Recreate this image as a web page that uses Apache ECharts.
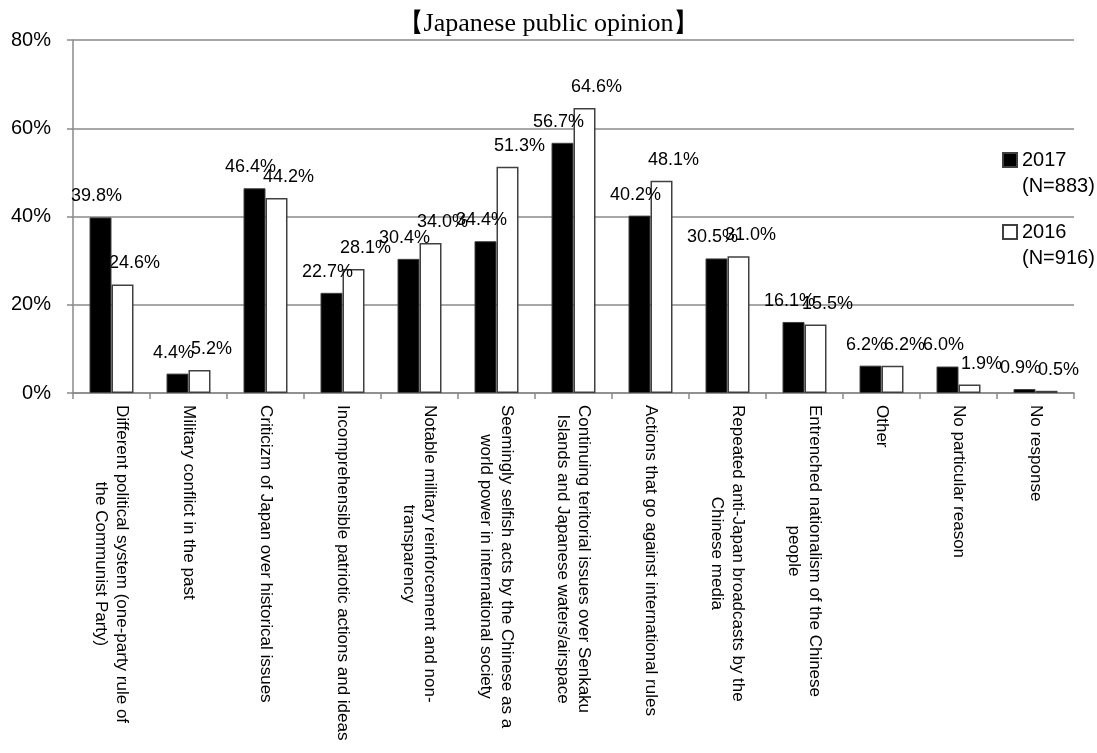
<!DOCTYPE html>
<html>
<head>
<meta charset="utf-8">
<script src="https://cdn.jsdelivr.net/npm/echarts@6/dist/echarts.min.js"></script>
<style>
  html, body { margin: 0; padding: 0; background: #fff; }
  #chart { width: 1097px; height: 753px; }
</style>
</head>
<body>
<div id="chart"></div>
<script>
const titleText = '【Japanese public opinion】';
const categories = [
  'Different political system (one-party rule of\nthe Communist Party)',
  'Military conflict in the past',
  'Criticizm of Japan over historical issues',
  'Incomprehensible patriotic actions and ideas',
  'Notable military reinforcement and non-\ntransparency',
  'Seemingly selfish acts by the Chinese as a\nworld power in international society',
  'Continuing teritorial issues over Senkaku\nIslands and Japanese waters/airspace',
  'Actions that go against international rules',
  'Repeated anti-Japan broadcasts by the\nChinese media',
  'Entrenched nationalism of the Chinese\npeople',
  'Other',
  'No particular reason',
  'No response'
];
const seriesNames = ['2017', '2016'];
const sampleSizes = ['(N=883)', '(N=916)'];
const values2017 = [39.8, 4.4, 46.4, 22.7, 30.4, 34.4, 56.7, 40.2, 30.5, 16.1, 6.2, 6.0, 0.9];
const values2016 = [24.6, 5.2, 44.2, 28.1, 34.0, 51.3, 64.6, 48.1, 31.0, 15.5, 6.2, 1.9, 0.5];
const yTicks = { min: 0, max: 80, interval: 20 };

const SANS = '"Liberation Sans", Arial, sans-serif';
const gridColor = '#8a8a8a';
const barBorder = '#404040';

const chart = echarts.init(document.getElementById('chart'), null, { renderer: 'canvas' });

const labelStyle = {
  show: true,
  position: 'top',
  fontFamily: SANS,
  fontSize: 18,
  color: '#000',
  formatter: p => p.value.toFixed(1) + '%'
};

const option = {
  animation: false,
  backgroundColor: '#fff',
  title: {
    text: titleText,
    left: 'center',
    top: 6,
    textStyle: { fontFamily: '"Liberation Serif", "Times New Roman", serif', fontSize: 26, fontWeight: 'normal', color: '#000' }
  },
  legend: {
    orient: 'vertical',
    left: 997,
    top: 142,
    itemGap: 20,
    itemWidth: 14,
    itemHeight: 40,
    selectedMode: false,
    icon: 'path://M0,0 L14,0 L14,14 L0,14 Z M0,40 L0.001,40',
    data: seriesNames,
    formatter: name => name + '\n' + sampleSizes[seriesNames.indexOf(name)],
    textStyle: { fontFamily: SANS, fontSize: 20, lineHeight: 26, color: '#000' }
  },
  grid: { left: 73, right: 23, top: 40, bottom: 360, containLabel: false },
  xAxis: {
    type: 'category',
    data: categories,
    axisLine: { show: true, lineStyle: { color: gridColor, width: 1.5 } },
    axisTick: { show: true, length: 6, interval: 0, lineStyle: { color: gridColor, width: 1.5 } },
    axisLabel: {
      interval: 0,
      rotate: -90,
      margin: 12,
      color: '#000',
      fontFamily: SANS,
      fontSize: 17,
      lineHeight: 21,
      formatter: v => v.split('\n').map(l => '{c|' + l + '}').join('\n'),
      rich: { c: { align: 'center', fontFamily: SANS, fontSize: 17, lineHeight: 21, color: '#000' } }
    }
  },
  yAxis: {
    type: 'value',
    min: yTicks.min,
    max: yTicks.max,
    interval: yTicks.interval,
    axisLine: { show: true, lineStyle: { color: gridColor, width: 1.5 } },
    axisTick: { show: true, length: 6, lineStyle: { color: gridColor, width: 1.5 } },
    splitLine: { show: true, lineStyle: { color: gridColor, width: 1.5 } },
    axisLabel: { formatter: '{value}%', color: '#000', fontFamily: SANS, fontSize: 20, margin: 22 }
  },
  series: [
    {
      name: seriesNames[0],
      type: 'bar',
      data: values2017,
      barWidth: 22,
      barGap: '0%',
      itemStyle: { color: '#000', borderColor: barBorder, borderWidth: 1 },
      label: Object.assign({}, labelStyle, { offset: [-4, -7] }),
      z: 3
    },
    {
      name: seriesNames[1],
      type: 'bar',
      data: values2016,
      barWidth: 22,
      barGap: '0%',
      itemStyle: { color: '#fff', borderColor: barBorder, borderWidth: 1.5 },
      label: Object.assign({}, labelStyle, { offset: [12, -7] }),
      z: 2
    }
  ]
};

chart.setOption(option);
</script>
</body>
</html>
